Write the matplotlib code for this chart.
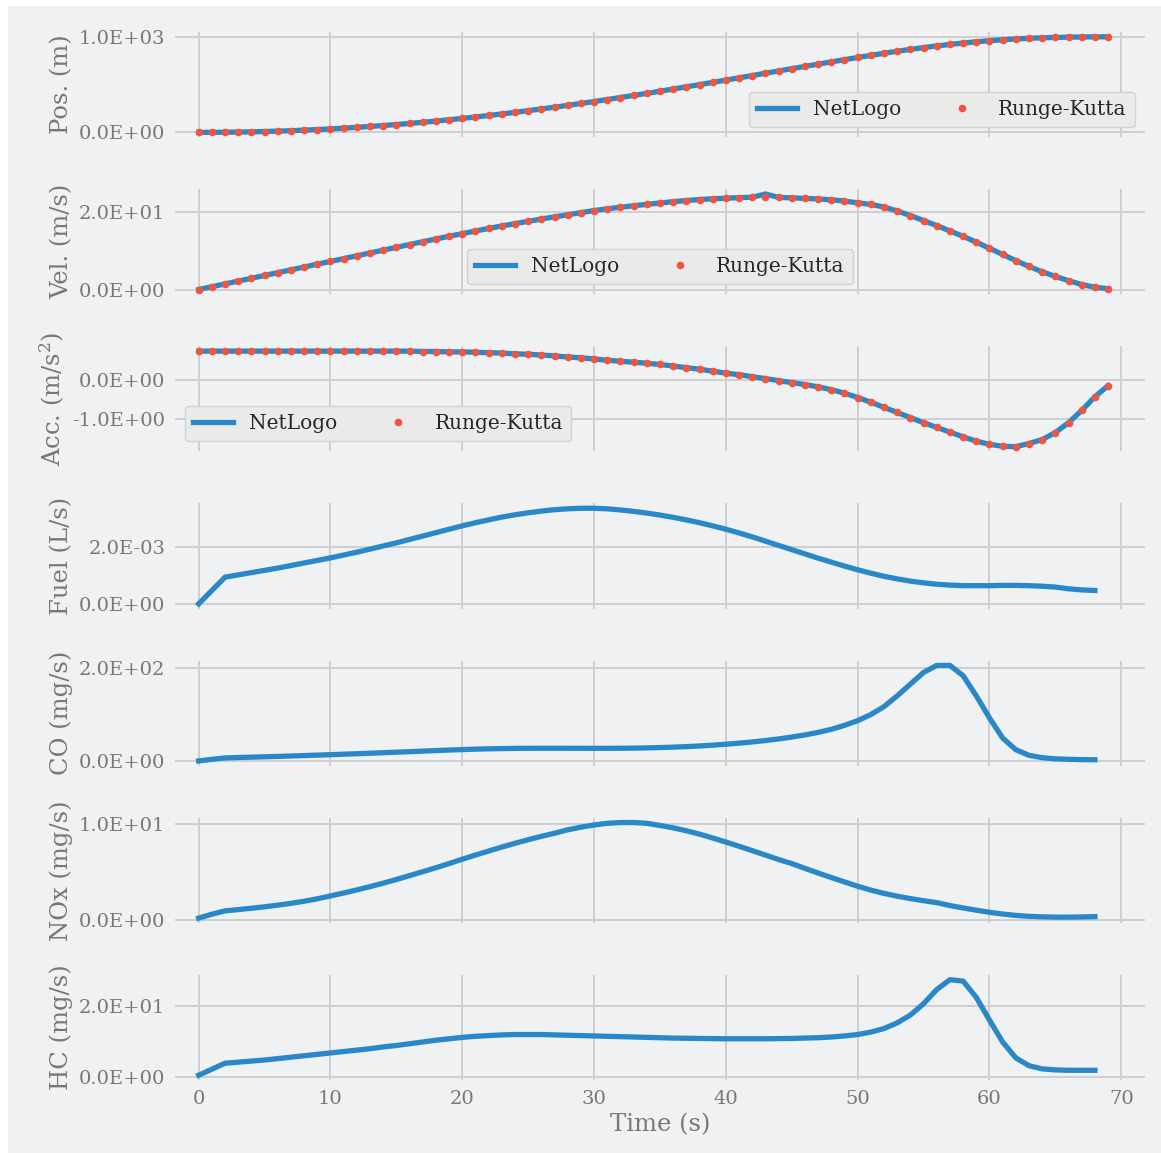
import numpy as np
import matplotlib
matplotlib.use("Agg")
import matplotlib.pyplot as plt
from matplotlib.patches import Rectangle
from matplotlib.ticker import FormatStrFormatter

# --- datos de la simulacion (1 muestra por segundo) ---
t_rk = np.arange(0, 70)
t_em = np.arange(0, 69)

rk_pos = [0.0, 0.4, 1.5, 3.3, 5.8, 9.1, 13.1, 17.9, 23.4, 29.6,
          36.5, 44.2, 52.6, 61.7, 71.5, 82.1, 93.4, 105.5, 118.2, 131.7,
          145.9, 160.8, 176.3, 192.5, 209.3, 226.7, 244.7, 263.2, 282.4, 302.0,
          322.3, 343.0, 364.1, 385.7, 407.6, 429.9, 452.5, 475.5, 498.7, 522.1,
          545.8, 569.5, 593.4, 617.4, 641.4, 665.2, 688.9, 712.5, 735.9, 759.0,
          781.8, 804.1, 825.8, 846.7, 866.5, 885.1, 902.3, 918.2, 932.7, 945.8,
          957.3, 967.2, 975.5, 982.2, 987.5, 991.5, 994.4, 996.2, 997.1, 997.5]

rk_vel = [0.00, 0.73, 1.46, 2.19, 2.92, 3.65, 4.38, 5.11, 5.84, 6.57,
          7.30, 8.03, 8.76, 9.49, 10.22, 10.95, 11.68, 12.40, 13.12, 13.83,
          14.50, 15.20, 15.85, 16.50, 17.10, 17.70, 18.30, 18.85, 19.40, 19.95,
          20.50, 20.95, 21.35, 21.75, 22.10, 22.45, 22.80, 23.10, 23.35, 23.55,
          23.70, 23.85, 23.95, 24.00, 23.90, 23.80, 23.65, 23.50, 23.30, 22.95,
          22.50, 22.10, 21.40, 20.40, 19.20, 17.90, 16.60, 15.20, 13.80, 12.30,
          10.70, 9.10, 7.50, 6.00, 4.60, 3.40, 2.30, 1.30, 0.60, 0.20]

rk_acc = [0.73, 0.73, 0.73, 0.73, 0.73, 0.73, 0.73, 0.73, 0.73, 0.73,
          0.73, 0.73, 0.73, 0.73, 0.73, 0.73, 0.73, 0.72, 0.72, 0.71,
          0.71, 0.70, 0.69, 0.68, 0.66, 0.65, 0.63, 0.61, 0.58, 0.56,
          0.53, 0.50, 0.47, 0.45, 0.42, 0.39, 0.35, 0.31, 0.27, 0.22,
          0.17, 0.13, 0.08, 0.03, -0.02, -0.07, -0.12, -0.18, -0.25, -0.34,
          -0.45, -0.57, -0.70, -0.83, -0.96, -1.09, -1.21, -1.33, -1.45, -1.56,
          -1.64, -1.69, -1.70, -1.62, -1.52, -1.34, -1.09, -0.78, -0.43, -0.15]

# NetLogo coincide con RK salvo el pico de velocidad en t=43
nl_pos = list(rk_pos)
nl_vel = list(rk_vel)
nl_vel[43] = 24.8
nl_acc = list(rk_acc)

fuel = [0.00, 0.47, 0.94, 1.02, 1.10, 1.18, 1.26, 1.35, 1.44, 1.53,
        1.62, 1.72, 1.82, 1.93, 2.04, 2.15, 2.27, 2.39, 2.51, 2.63,
        2.75, 2.86, 2.96, 3.06, 3.14, 3.21, 3.27, 3.32, 3.35, 3.37,
        3.37, 3.35, 3.31, 3.26, 3.20, 3.13, 3.05, 2.96, 2.86, 2.75,
        2.63, 2.50, 2.36, 2.21, 2.06, 1.91, 1.76, 1.61, 1.47, 1.33,
        1.20, 1.08, 0.97, 0.88, 0.80, 0.74, 0.69, 0.66, 0.64, 0.64,
        0.64, 0.65, 0.65, 0.64, 0.62, 0.59, 0.53, 0.49, 0.47]
fuel = [f * 1e-3 for f in fuel]

co = [1.0, 4.5, 7.5, 8.3, 9.1, 9.9, 10.7, 11.6, 12.5, 13.4,
      14.4, 15.4, 16.4, 17.5, 18.6, 19.7, 20.8, 22.0, 23.2, 24.3,
      25.3, 26.2, 26.9, 27.4, 27.8, 28.0, 28.1, 28.1, 28.1, 28.0,
      28.0, 28.0, 28.1, 28.4, 28.9, 29.6, 30.5, 31.6, 33.0, 34.7,
      36.7, 39.0, 41.6, 44.6, 48.0, 52.0, 56.6, 62.0, 68.5, 77.0,
      87.0, 100.0, 117.0, 140.0, 165.0, 190.0, 205.0, 205.0, 183.0, 140.0,
      93.0, 50.0, 25.0, 13.0, 8.0, 5.5, 4.5, 3.8, 3.5]

nox = [0.20, 0.60, 0.95, 1.08, 1.22, 1.37, 1.54, 1.73, 1.95, 2.20,
       2.50, 2.80, 3.12, 3.46, 3.82, 4.20, 4.60, 5.01, 5.42, 5.85,
       6.30, 6.73, 7.15, 7.56, 7.95, 8.32, 8.67, 8.99, 9.35, 9.62,
       9.85, 10.02, 10.10, 10.10, 10.02, 9.80, 9.55, 9.25, 8.90, 8.50,
       8.08, 7.64, 7.19, 6.73, 6.27, 5.85, 5.35, 4.87, 4.40, 3.95,
       3.50, 3.10, 2.76, 2.47, 2.22, 2.00, 1.80, 1.50, 1.25, 1.02,
       0.80, 0.62, 0.48, 0.38, 0.33, 0.30, 0.30, 0.32, 0.35]

hc = [0.4, 2.1, 3.8, 4.1, 4.4, 4.7, 5.1, 5.5, 5.9, 6.3,
      6.7, 7.1, 7.5, 7.9, 8.4, 8.8, 9.3, 9.8, 10.3, 10.7,
      11.1, 11.4, 11.6, 11.8, 11.9, 11.9, 11.9, 11.8, 11.7, 11.6,
      11.5, 11.4, 11.3, 11.2, 11.1, 11.0, 10.9, 10.85, 10.8, 10.75,
      10.7, 10.7, 10.7, 10.7, 10.75, 10.8, 10.9, 11.0, 11.2, 11.5,
      11.9, 12.6, 13.6, 15.2, 17.4, 20.6, 24.6, 27.4, 27.0, 22.4,
      16.0, 9.8, 5.3, 3.1, 2.2, 1.9, 1.8, 1.8, 1.8]

ylabels = ["Pos. (m)", "Vel. (m/s)", r"Acc. (m/s$^2$)", "Fuel (L/s)",
           "CO (mg/s)", "NOx (mg/s)", "HC (mg/s)"]
yticks = [[0, 1000], [0, 20], [-1, 0], [0, 2e-3], [0, 200], [0, 10], [0, 20]]

BG = "#f0f1f3"
BLUE = "#2a88c8"
RED = "#ef5540"
GRID = "#cfcfd1"
TXT = "#777777"

plt.rcParams["font.family"] = "DejaVu Serif"
plt.rcParams["mathtext.fontset"] = "dejavuserif"

fig, axes = plt.subplots(7, 1, figsize=(11.61, 11.53), dpi=100, sharex=True)
fig.patch.set_facecolor("white")
fig.patches.append(Rectangle((8 / 1161, 0), 1, 1 - 6 / 1153, transform=fig.transFigure,
                             facecolor=BG, edgecolor="none", zorder=-10))
fig.subplots_adjust(left=0.1507, right=0.9862, top=0.9722, bottom=0.0633, hspace=0.495)

kin = [(nl_pos, rk_pos, "lower right"), (nl_vel, rk_vel, "lower center"),
       (nl_acc, rk_acc, "lower left")]
emis = [fuel, co, nox, hc]

for i, ax in enumerate(axes):
    ax.set_facecolor(BG)
    for s in ax.spines.values():
        s.set_visible(False)
    ax.grid(True, color=GRID, linewidth=1.4)
    ax.set_axisbelow(True)
    ax.tick_params(length=0, pad=7, labelsize=14, labelcolor=TXT)

    if i < 3:
        nl, rk, loc = kin[i]
        ax.plot(t_rk, nl, color=BLUE, lw=3.8, label="NetLogo", zorder=2)
        ax.plot(t_rk, rk, "o", color=RED, ms=5.5, mec="none", label="Runge-Kutta", zorder=3)
        leg = ax.legend(loc=loc, ncol=2, fontsize=14.5, fancybox=True, framealpha=1,
                        facecolor="#eaeae8", edgecolor="#d2d2d2", columnspacing=2.0)
        for txt in leg.get_texts():
            txt.set_color("#262626")
    else:
        ax.plot(t_em, emis[i - 3], color=BLUE, lw=3.8)

    ax.set_yticks(yticks[i])
    ax.yaxis.set_major_formatter(FormatStrFormatter("%.1E"))
    ax.set_ylabel(ylabels[i], fontsize=17.5, color=TXT)

axes[-1].set_xlim(-1.8, 71.8)
axes[-1].set_xticks(range(0, 80, 10))
axes[-1].set_xlabel("Time (s)", fontsize=17.5, color=TXT, labelpad=4)

plt.savefig("out.png", dpi=100, facecolor=fig.get_facecolor())
